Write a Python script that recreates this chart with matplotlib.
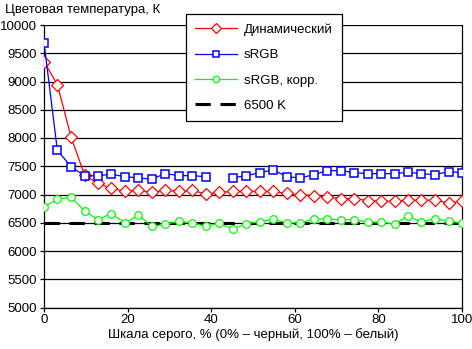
import numpy as np
import matplotlib
matplotlib.use('Agg')
import matplotlib.pyplot as plt

plt.rcParams['font.family'] = ['Liberation Sans', 'DejaVu Sans']
plt.rcParams['lines.scale_dashes'] = False

# grey level, %
gray = [0, 3.2, 6.5, 9.7, 12.9, 16.1, 19.4, 22.6, 25.8, 29.0, 32.3, 35.5, 38.7, 41.9, 45.2, 48.4,
        51.6, 54.8, 58.1, 61.3, 64.5, 67.7, 71.0, 74.2, 77.4, 80.6, 83.9, 87.1, 90.3, 93.5, 96.8, 100]

dynamic = [9350, 8945, 8010, 7345, 7196, 7107, 7060, 7077, 7036, 7077, 7055, 7077, 7006, 7036, 7054, 7054,
           7054, 7054, 7018, 6994, 6982, 6960, 6929, 6929, 6893, 6881, 6881, 6899, 6899, 6899, 6852, 6881]

srgb = [9690, 7780, 7494, 7327, 7333, 7357, 7316, 7292, 7274, 7369, 7336, 7333, 7316, np.nan, 7298, 7333,
        7387, 7435, 7316, 7292, 7351, 7423, 7423, 7387, 7369, 7369, 7369, 7393, 7369, 7351, 7405, 7387]

srgb_corr = [6780, 6917, 6953, 6709, 6554, 6661, 6495, 6637, 6435, 6471, 6527, 6500, 6435, 6495, 6387, 6483,
             6518, 6566, 6500, 6495, 6571, 6566, 6554, 6554, 6512, 6512, 6477, 6620, 6512, 6571, 6530, 6495]

ref_x = [0, 100]
ref_y = [6500, 6500]

y_ticks = list(range(5000, 10001, 500))
x_ticks = [0, 20, 40, 60, 80, 100]

fig = plt.figure(figsize=(4.72, 3.49), dpi=100)
ax = fig.add_axes([44/472, 1 - 307.5/349, 418/472, 282.5/349])

ax.plot(ref_x, ref_y, color='black', linewidth=2.2, dashes=(11, 7), label='6500 K', zorder=2)
ax.plot(gray, dynamic, color='#ff0000', linewidth=0.9, marker='D', markersize=6.2,
        markerfacecolor='white', markeredgecolor='#ff0000', markeredgewidth=0.9,
        label='Динамический', zorder=3)
ax.plot(gray, srgb, color='#0000ff', linewidth=0.9, marker='s', markersize=5.8,
        markerfacecolor='white', markeredgecolor='#0000ff', markeredgewidth=1.1,
        label='sRGB', zorder=4)
ax.plot(gray, srgb_corr, color='#00ff00', linewidth=0.9, marker='o', markersize=5.5,
        markerfacecolor='white', markeredgecolor='#00ff00', markeredgewidth=0.9,
        label='sRGB, корр.', zorder=3)

ax.set_xlim(0, 100)
ax.set_ylim(5000, 10000)
ax.set_xticks(x_ticks)
ax.set_yticks(y_ticks)
ax.tick_params(labelsize=9.5, length=3, width=0.9, color='black', pad=2)
ax.yaxis.grid(True, color='black', linewidth=0.9)
ax.set_axisbelow(True)
ax.spines['top'].set_visible(False)
for side in ['left', 'right', 'bottom']:
    ax.spines[side].set_linewidth(0.9)

ax.set_xlabel('Шкала серого, % (0% – черный, 100% – белый)', fontsize=9.5, labelpad=1)
fig.text(5/472, 1 - 10/349, 'Цветовая температура, К', fontsize=9.5, va='center', ha='left')

handles, labels = ax.get_legend_handles_labels()
order = [1, 2, 3, 0]
leg = ax.legend([handles[i] for i in order], [labels[i] for i in order],
                loc='upper left', bbox_to_anchor=(186/472, 1 - 14/349), bbox_transform=fig.transFigure,
                fontsize=9.5, frameon=True, fancybox=False, framealpha=1, edgecolor='black',
                handlelength=3.2, labelspacing=1.0, borderpad=0.7, handletextpad=0.5,
                borderaxespad=0, markerscale=0.85)
leg.get_frame().set_linewidth(0.9)

fig.savefig('out.png', dpi=100)
